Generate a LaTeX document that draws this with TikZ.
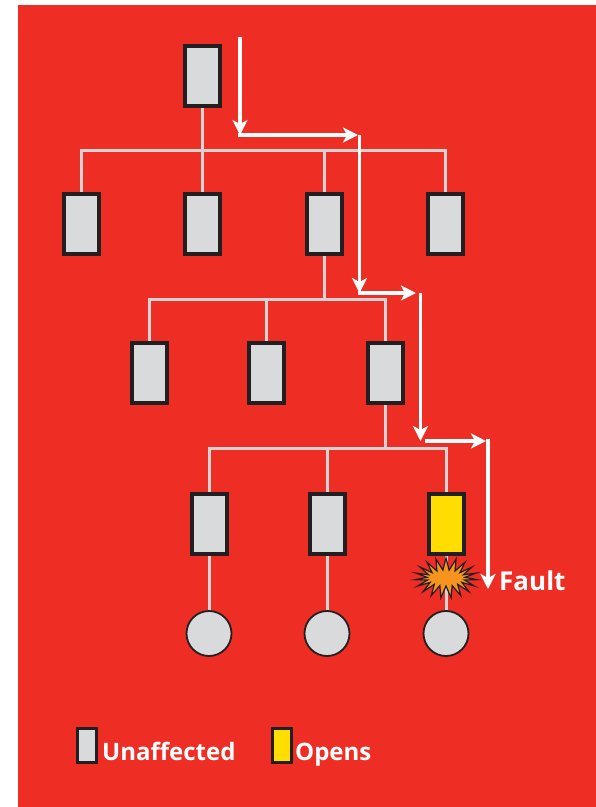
\documentclass[tikz,border=0pt]{standalone}
\usepackage{fontspec}
\setmainfont{Open Sans}
\usetikzlibrary{arrows.meta,shapes.symbols}
\definecolor{bgred}{HTML}{EE2E24}
\definecolor{boxgray}{HTML}{D9DADC}
\definecolor{boxedge}{HTML}{231F20}
\definecolor{wiregray}{HTML}{D1D3D4}
\definecolor{openyellow}{HTML}{FFDD00}
\definecolor{burst}{HTML}{F7941D}
\pgfdeclarelayer{bglayer}
\pgfdeclarelayer{wirelayer}
\pgfsetlayers{bglayer,wirelayer,main}
\tikzset{
  devbox/.style={rectangle, draw=boxedge, line width=4pt, fill=boxgray, minimum width=35pt, minimum height=60pt, inner sep=0pt},
  openbox/.style={devbox, fill=openyellow},
  loadcirc/.style={circle, draw=boxedge, line width=1.8pt, fill=boxgray, minimum size=45pt, inner sep=0pt},
  legbox/.style={rectangle, draw=boxedge, line width=3pt, fill=boxgray, minimum width=19pt, minimum height=34pt, inner sep=0pt},
  wire/.style={draw=wiregray, line width=3pt},
  flow/.style={draw=white, line width=3.5pt, -{Stealth[length=15pt,width=15pt,inset=4pt]}},
  lbl/.style={text=white, font=\bfseries\fontsize{24}{28}\selectfont, inner sep=0pt, anchor=base west}
}
\begin{document}
\begin{tikzpicture}[x=1pt,y=-1pt]
\begin{pgfonlayer}{bglayer}
\fill[white] (0,0) rectangle (596,807);
\fill[bgred] (18,5) rectangle (596,807);
\end{pgfonlayer}
\useasboundingbox (0,0) rectangle (596,807);

% devices
\node[devbox] (a) at (202,76) {};
\node[devbox] (b1) at (81.5,224) {};
\node[devbox] (b2) at (202,224) {};
\node[devbox] (b3) at (324.5,224) {};
\node[devbox] (b4) at (445.5,224) {};
\node[devbox] (c1) at (149.5,373) {};
\node[devbox] (c2) at (266,373) {};
\node[devbox] (c3) at (385,373) {};
\node[devbox] (d1) at (209,523.5) {};
\node[devbox] (d2) at (327,523.5) {};
\node[openbox] (d3) at (446,523.5) {};
\node[loadcirc] (e1) at (209,633.5) {};
\node[loadcirc] (e2) at (327,633.5) {};
\node[loadcirc] (e3) at (446,633.5) {};
\node[starburst, starburst points=19, starburst point height=12pt, random starburst=0, draw=boxedge, line width=1.2pt, fill=burst, minimum width=62pt, minimum height=40pt, inner sep=0pt] (bang) at (446,578) {};

% junction coordinates
\coordinate (j1) at (202,150);
\coordinate (j2) at (324.5,299);
\coordinate (j3) at (385,448.5);

\begin{pgfonlayer}{wirelayer}
\draw[wire] (a.south) -- (j1);
\draw[wire] (b1.north) -- (b1.north|-j1) -- (b4.north|-j1) -- (b4.north);
\draw[wire] (b2.north) -- (b2.north|-j1);
\draw[wire] (b3.north) -- (b3.north|-j1);
\draw[wire] (b3.south) -- (j2);
\draw[wire] (c1.north) -- (c1.north|-j2) -- (c3.north|-j2) -- (c3.north);
\draw[wire] (c2.north) -- (c2.north|-j2);
\draw[wire] (c3.south) -- (j3);
\draw[wire] (d1.north) -- (d1.north|-j3) -- (d3.north|-j3) -- (d3.north);
\draw[wire] (d2.north) -- (d2.north|-j3);
\draw[wire] (d1.south) -- (e1.north);
\draw[wire] (d2.south) -- (e2.north);
\draw[wire] (d3.south) -- (e3.north);
\end{pgfonlayer}

% fault current path
\coordinate (f0) at (240,37);
\coordinate (f1) at (240,135);
\coordinate (f2) at (358,135);
\coordinate (f3) at (359.5,135);
\coordinate (f4) at (359.5,293);
\coordinate (f5) at (416,293);
\coordinate (f6) at (420.5,293);
\coordinate (f7) at (420.5,441);
\coordinate (f8) at (486,441);
\coordinate (f9) at (488,439);
\coordinate (f10) at (488,589);
\draw[flow] (f0) -- (f1);
\draw[flow] ([xshift=-1.75pt]f1) -- (f2);
\draw[flow] (f3) -- (f4);
\draw[flow] ([xshift=-1.75pt]f4) -- (f5);
\draw[flow] (f6) -- (f7);
\draw[flow] ([xshift=4pt]f7) -- (f8);
\draw[flow] (f9) -- (f10);
\node[lbl, font=\bfseries\fontsize{26}{30}\selectfont] (fault) at (499,590) {Fault};

% legend
\node[legbox] (lg1) at (87,745.5) {};
\node[lbl] (lt1) at (102,760) {Unaffected};
\node[legbox, fill=openyellow] (lg2) at (282,745.5) {};
\node[lbl] (lt2) at (295,760) {Opens};
\end{tikzpicture}
\end{document}
